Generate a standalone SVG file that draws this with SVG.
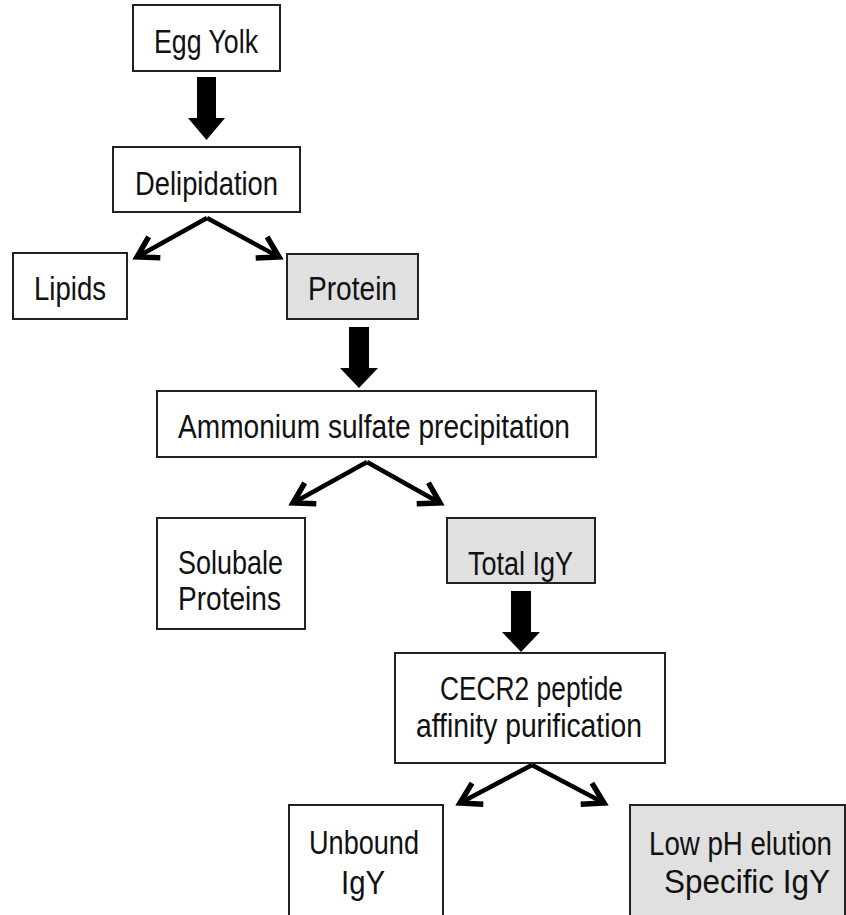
<svg xmlns="http://www.w3.org/2000/svg" width="846" height="915" viewBox="0 0 846 915">
<style>
.box{fill:#fff;stroke:#222;stroke-width:2}
.hl{fill:#e0e0e0;stroke:#222;stroke-width:2}
text{font-family:"Liberation Sans",Arial,sans-serif;font-size:34px;fill:#111}
.ln{stroke:#000;stroke-width:4.5;fill:none}
.blk{fill:#000}
</style>
<defs>
<marker id="chev" markerUnits="userSpaceOnUse" orient="auto" refX="0" refY="0" markerWidth="40" markerHeight="40" viewBox="-25 -20 40 40" overflow="visible">
<path d="M-20,-12 L0,0 L-20,12" fill="none" stroke="#000" stroke-width="5.5" stroke-linejoin="miter"/>
</marker>
</defs>
<rect width="846" height="915" fill="#fff"/>
<g id="connectors">
<polygon class="blk" points="197,77 216,77 216,118 225,118 206.5,140 188,118 197,118"/>
<polygon class="blk" points="349,327 369,327 369,368 378,368 359,388 340,368 349,368"/>
<polygon class="blk" points="511,591 531,591 531,632 540,632 521,652 502,632 511,632"/>
<line class="ln" x1="207" y1="218" x2="137" y2="257" marker-end="url(#chev)"/>
<line class="ln" x1="207" y1="218" x2="279" y2="257" marker-end="url(#chev)"/>
<line class="ln" x1="367" y1="462" x2="293" y2="503" marker-end="url(#chev)"/>
<line class="ln" x1="367" y1="462" x2="440" y2="503" marker-end="url(#chev)"/>
<line class="ln" x1="532" y1="765" x2="460" y2="803" marker-end="url(#chev)"/>
<line class="ln" x1="532" y1="765" x2="604" y2="803" marker-end="url(#chev)"/>
</g>
<g id="egg-yolk"><rect class="box" x="133" y="5" width="147" height="66"/><text x="154" y="53" textLength="104" lengthAdjust="spacingAndGlyphs">Egg Yolk</text></g>
<g id="delipidation"><rect class="box" x="113" y="147" width="187" height="65"/><text x="135" y="195" textLength="143" lengthAdjust="spacingAndGlyphs">Delipidation</text></g>
<g id="lipids"><rect class="box" x="13" y="253" width="114" height="66"/><text x="34" y="300" textLength="72" lengthAdjust="spacingAndGlyphs">Lipids</text></g>
<g id="protein"><rect class="hl" x="287" y="254" width="131" height="65"/><text x="308" y="300" textLength="89" lengthAdjust="spacingAndGlyphs">Protein</text></g>
<g id="ammonium"><rect class="box" x="157" y="391" width="439" height="66"/><text x="178" y="438" textLength="392" lengthAdjust="spacingAndGlyphs">Ammonium sulfate precipitation</text></g>
<g id="soluble"><rect class="box" x="157" y="518" width="148" height="111"/><text x="178" y="574" textLength="105" lengthAdjust="spacingAndGlyphs">Solubale</text><text x="178" y="610" textLength="103" lengthAdjust="spacingAndGlyphs">Proteins</text></g>
<g id="total-igy"><rect class="hl" x="447" y="518" width="148" height="65"/><text x="468" y="575" textLength="105" lengthAdjust="spacingAndGlyphs">Total IgY</text></g>
<g id="cecr2"><rect class="box" x="395" y="653" width="270" height="110"/><text x="440" y="700" textLength="183" lengthAdjust="spacingAndGlyphs">CECR2 peptide</text><text x="416" y="737" textLength="226" lengthAdjust="spacingAndGlyphs">affinity purification</text></g>
<g id="unbound"><rect class="box" x="289" y="805" width="154" height="130"/><text x="309" y="854" textLength="110" lengthAdjust="spacingAndGlyphs">Unbound</text><text x="341" y="894" textLength="44" lengthAdjust="spacingAndGlyphs">IgY</text></g>
<g id="low-ph"><rect class="hl" x="630" y="805" width="215" height="130"/><text x="649" y="855" textLength="183" lengthAdjust="spacingAndGlyphs">Low pH elution</text><text x="664" y="893" textLength="166" lengthAdjust="spacingAndGlyphs">Specific IgY</text></g>
</svg>
